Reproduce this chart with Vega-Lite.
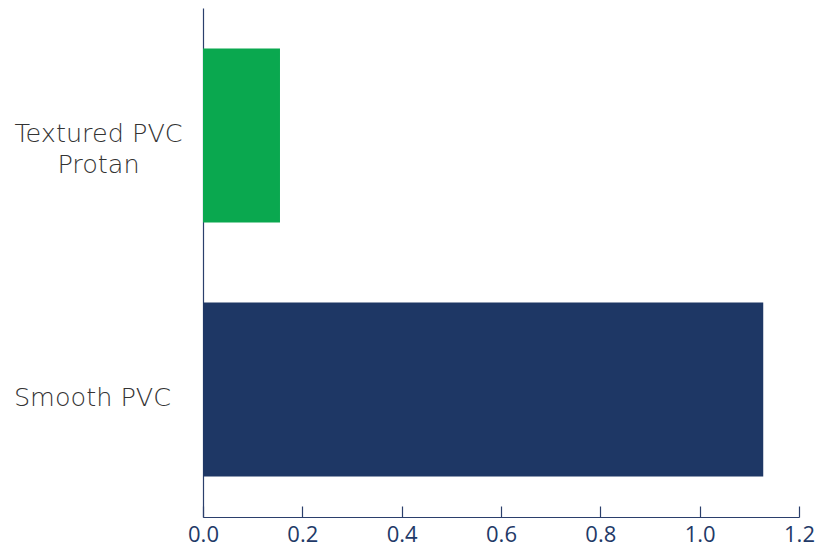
{
  "$schema": "https://vega.github.io/schema/vega-lite/v6.json",
  "autosize": "none",
  "padding": {"left": 203, "top": 8, "right": 17, "bottom": 33},
  "width": 596,
  "height": 509,
  "background": "white",
  "data": {"values": [
    {"material": "Textured PVC Protan", "value": 0.155, "color": "green"},
    {"material": "Smooth PVC", "value": 1.128, "color": "navy"}
  ]},
  "config": {"view": {"stroke": null}},
  "mark": {"type": "bar"},
  "encoding": {
    "y": {
      "field": "material", "type": "nominal", "sort": null,
      "scale": {"paddingInner": 0.315, "paddingOuter": 0.16},
      "axis": {
        "title": null, "ticks": false, "domain": true,
        "domainColor": "#2b3f6c", "domainWidth": 1.2,
        "labelAlign": "center",
        "labelPadding": {"condition": {"test": "datum.value == 'Smooth PVC'", "value": 111}, "value": 105},
        "labelOffset": {"condition": {"test": "datum.value == 'Smooth PVC'", "value": 9}, "value": -2},
        "labelFont": "DejaVu Sans", "labelFontWeight": 200, "labelFontSize": 25.5,
        "labelColor": "#333333", "labelLineHeight": 31,
        "labelExpr": "datum.value == 'Textured PVC Protan' ? ['Textured PVC', 'Protan'] : datum.value",
        "labelLimit": 0
      }
    },
    "x": {
      "field": "value", "type": "quantitative",
      "scale": {"domain": [0, 1.2], "nice": false},
      "axis": {
        "title": null, "values": [0, 0.2, 0.4, 0.6, 0.8, 1.0, 1.2], "format": ".1f",
        "grid": false, "tickSize": -11, "tickColor": "#2b3f6c", "tickWidth": 1.2,
        "domainColor": "#2b3f6c", "domainWidth": 1.2,
        "labelPadding": 18, "labelFont": "Open Sans", "labelFontSize": 22,
        "labelColor": "#1f3a68", "labelFlush": false
      }
    },
    "color": {
      "field": "color", "type": "nominal",
      "scale": {"domain": ["green", "navy"], "range": ["#0aa84f", "#1e3765"]},
      "legend": null
    }
  }
}
